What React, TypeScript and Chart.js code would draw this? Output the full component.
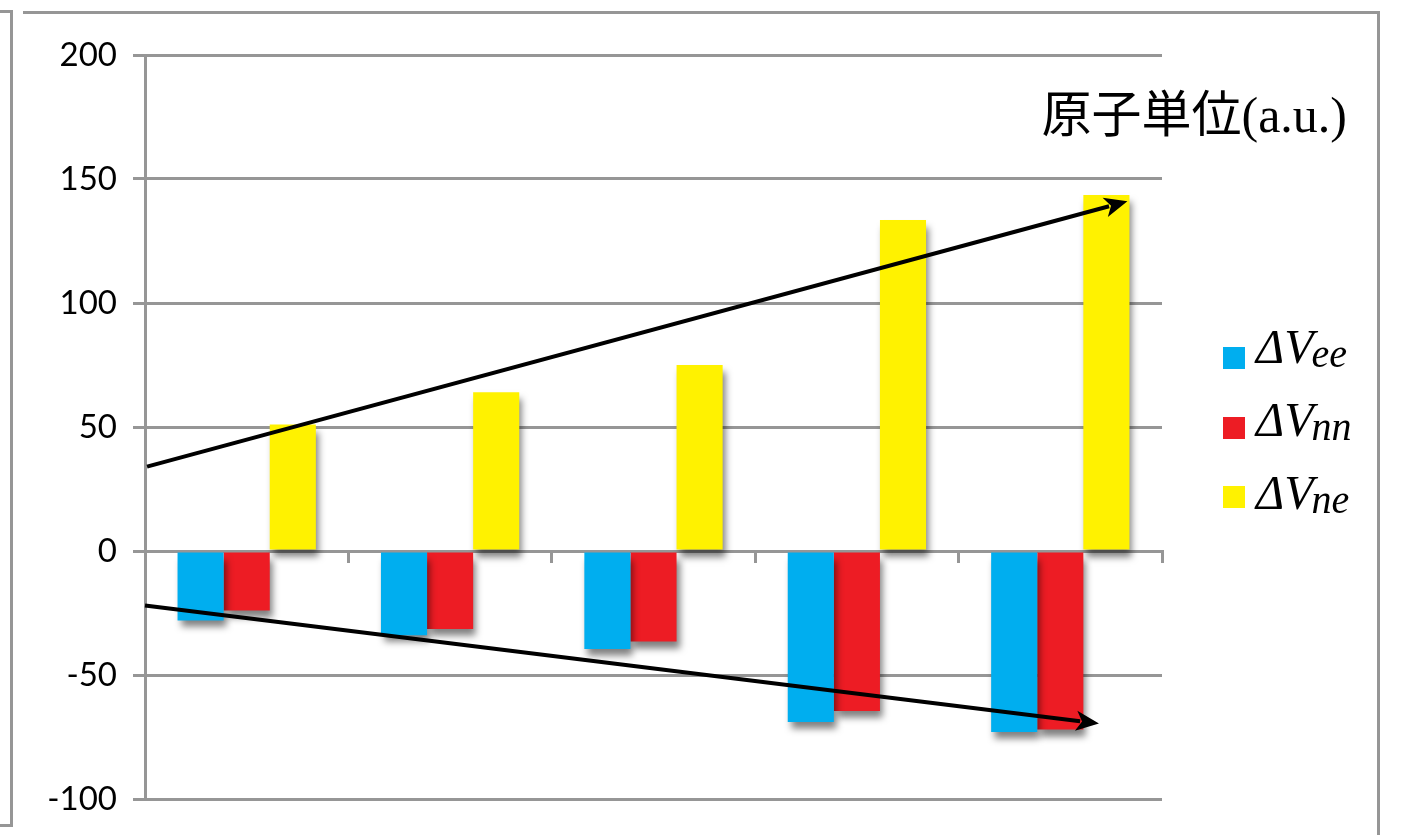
import React, { useEffect, useRef } from 'react';
import { Chart, registerables } from 'chart.js';

Chart.register(...registerables);

const categories = ['1', '2', '3', '4', '5'];
const seriesNames = ['ΔVee', 'ΔVnn', 'ΔVne'];
const legendMain = 'ΔV';
const legendSubs = ['ee', 'nn', 'ne'];
const deltaVee = [-28, -34, -39.5, -69, -73];
const deltaVnn = [-24, -31.5, -36.5, -64.5, -72];
const deltaVne = [51, 64, 75, 133.5, 143.5];
const seriesColors = ['#00AEEF', '#ED1C24', '#FFF200'];
const yMin = -100;
const yMax = 200;
const yStep = 50;
const unitLabel = '原子単位(a.u.)';
const arrowUpX = [-0.49, 4.33];
const arrowUpY = [34, 141];
const arrowDownX = [-0.5, 4.19];
const arrowDownY = [-22, -69.6];

const GRAY = '#969696';
const SERIF = '"Liberation Serif", "Times New Roman", "DejaVu Serif", serif';

function drawArrow(ctx: CanvasRenderingContext2D, x1: number, y1: number, x2: number, y2: number) {
  const ang = Math.atan2(y2 - y1, x2 - x1);
  const headLen = 23;
  const headHalf = 10;
  const bx = x2 - headLen * Math.cos(ang);
  const by = y2 - headLen * Math.sin(ang);
  ctx.save();
  ctx.strokeStyle = '#000';
  ctx.fillStyle = '#000';
  ctx.lineWidth = 4;
  ctx.beginPath();
  ctx.moveTo(x1, y1);
  ctx.lineTo(bx + 4 * Math.cos(ang), by + 4 * Math.sin(ang));
  ctx.stroke();
  ctx.beginPath();
  ctx.moveTo(x2, y2);
  ctx.lineTo(bx + headHalf * Math.sin(ang), by - headHalf * Math.cos(ang));
  ctx.lineTo(bx + 6 * Math.cos(ang), by + 6 * Math.sin(ang));
  ctx.lineTo(bx - headHalf * Math.sin(ang), by + headHalf * Math.cos(ang));
  ctx.closePath();
  ctx.fill();
  ctx.restore();
}

const decorPlugin = {
  id: 'decor',
  beforeDatasetsDraw(chart: any) {
    const ctx = chart.ctx;
    ctx.save();
    ctx.shadowColor = 'rgba(0,0,0,0.5)';
    ctx.shadowBlur = 7;
    ctx.shadowOffsetX = 3;
    ctx.shadowOffsetY = 7;
  },
  afterDatasetsDraw(chart: any) {
    const ctx = chart.ctx;
    ctx.restore();
    const xs = chart.scales.x;
    const ys = chart.scales.y;
    drawArrow(
      ctx,
      xs.getPixelForValue(arrowUpX[0]), ys.getPixelForValue(arrowUpY[0]),
      xs.getPixelForValue(arrowUpX[1]), ys.getPixelForValue(arrowUpY[1])
    );
    drawArrow(
      ctx,
      xs.getPixelForValue(arrowDownX[0]), ys.getPixelForValue(arrowDownY[0]),
      xs.getPixelForValue(arrowDownX[1]), ys.getPixelForValue(arrowDownY[1])
    );
  },
  afterDraw(chart: any) {
    const ctx = chart.ctx;
    const area = chart.chartArea;
    ctx.save();
    ctx.fillStyle = '#000';
    ctx.font = '50px "Liberation Serif", "Noto Sans CJK JP", serif';
    ctx.textAlign = 'right';
    ctx.textBaseline = 'alphabetic';
    ctx.fillText(unitLabel, area.right + 185, 132);
    const datasets = chart.data.datasets;
    const lx = area.right + 61;
    const rowY = [358, 428, 497];
    const baseY = [363, 436, 509];
    datasets.forEach((ds: any, i: number) => {
      const cy = rowY[i];
      ctx.fillStyle = ds.backgroundColor;
      ctx.fillRect(lx, cy - 11, 22, 22);
      ctx.fillStyle = '#000';
      ctx.textAlign = 'left';
      ctx.font = 'italic 48px ' + SERIF;
      const tx = lx + 33;
      const base = baseY[i];
      ctx.fillText(legendMain, tx, base);
      const w = ctx.measureText(legendMain).width;
      ctx.font = 'italic 40px ' + SERIF;
      ctx.fillText(legendSubs[i], tx + w - 2, base + 4);
    });
    ctx.restore();
  },
};

export default function App() {
  const ref = useRef<HTMLCanvasElement | null>(null);
  useEffect(() => {
    let chart: any = null;
    let cancelled = false;
    const make = () => {
      if (cancelled || !ref.current) return;
      chart = new Chart(ref.current, {
        type: 'bar',
        data: {
          labels: categories,
          datasets: [
            { label: seriesNames[0], data: deltaVee, backgroundColor: seriesColors[0] },
            { label: seriesNames[1], data: deltaVnn, backgroundColor: seriesColors[1] },
            { label: seriesNames[2], data: deltaVne, backgroundColor: seriesColors[2] },
          ],
        },
        options: {
          responsive: false,
          animation: false,
          devicePixelRatio: 1,
          layout: { padding: { left: 0, right: 240, top: 55, bottom: 36 } },
          datasets: { bar: { categoryPercentage: 0.68, barPercentage: 1.0, borderWidth: 0 } },
          plugins: {
            legend: { display: false },
            tooltip: { enabled: false },
            title: { display: false },
          },
          scales: {
            x: {
              type: 'category',
              position: { y: 0 } as any,
              grid: {
                display: true,
                drawOnChartArea: false,
                drawTicks: true,
                tickLength: 10,
                offset: true,
                color: GRAY,
                lineWidth: 3,
              },
              border: { display: true, color: GRAY, width: 3 },
              ticks: { display: false },
            },
            y: {
              min: yMin,
              max: yMax,
              ticks: {
                stepSize: yStep,
                color: '#000',
                padding: 16,
                font: { family: 'Lato', size: 33 },
              },
              grid: { color: GRAY, lineWidth: 3, tickLength: 12 },
              border: { color: GRAY, width: 3 },
              afterFit: (scale: any) => {
                scale.width = 145;
              },
            },
          },
        },
        plugins: [decorPlugin],
      } as any);
    };
    const fontsToLoad = [
      'italic 48px "Liberation Serif"',
      '50px "Liberation Serif"',
      '50px "Noto Sans CJK JP"',
      '33px Lato',
    ];
    Promise.all(fontsToLoad.map((f) => (document as any).fonts.load(f, '原子単位ΔVa')))
      .catch(() => null)
      .then(() => make());
    return () => {
      cancelled = true;
      if (chart) chart.destroy();
    };
  }, []);

  return (
    <div style={{ position: 'fixed', left: 0, top: 0, width: 1402, height: 835, background: '#fff' }}>
      <canvas ref={ref} width={1402} height={835} style={{ position: 'absolute', left: 0, top: 0 }} />
      <div style={{ position: 'absolute', left: 0, top: 10, width: 10, height: 811, borderTop: `3px solid ${GRAY}`, borderRight: `3px solid ${GRAY}`, borderBottom: `3px solid ${GRAY}` }} />
      <div style={{ position: 'absolute', left: 23, top: 11, width: 1354, height: 830, borderTop: `3px solid ${GRAY}`, borderRight: `3px solid ${GRAY}` }} />
    </div>
  );
}
